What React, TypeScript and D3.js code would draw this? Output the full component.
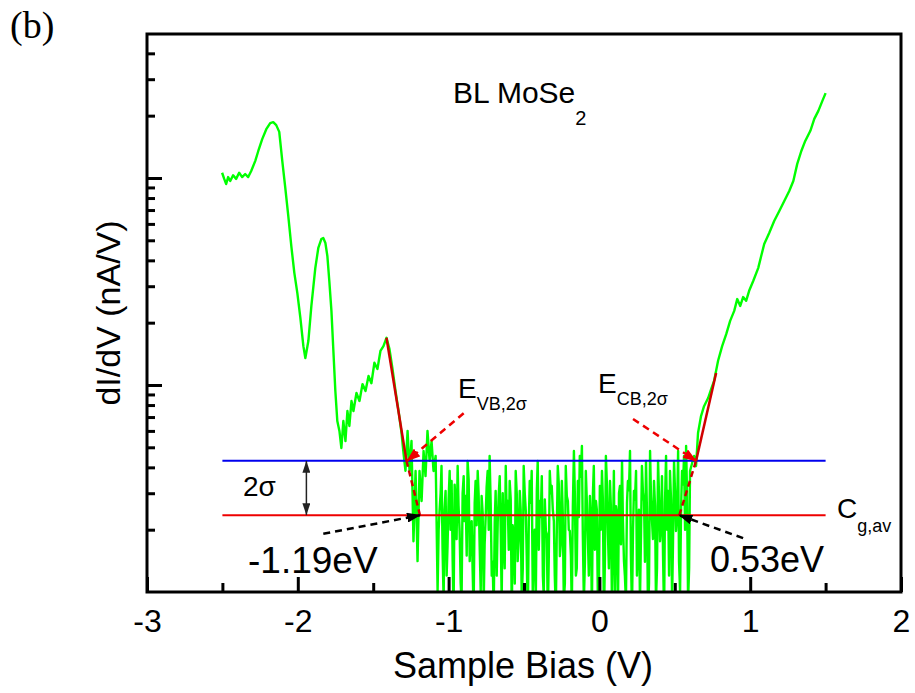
import React, { useEffect, useRef } from "react";
import * as d3 from "d3";

const FONT = "'Liberation Sans', Arial, Helvetica, sans-serif";
const SERIF = "'Liberation Serif', 'Times New Roman', serif";

// Axis ticks
const biasTicksMajor = [-3, -2, -1, 0, 1, 2];
const biasTicksMinor = [-2.5, -1.5, -0.5, 0.5, 1.5];
const didvTicksMajor = [1, 10];
const didvTicksMinor = [0.2, 0.3, 0.4, 0.5, 0.6, 0.7, 0.8, 0.9, 2, 3, 4, 5, 6, 7, 8, 9, 20, 30, 40];

// dI/dV spectrum: [sample bias (V), dI/dV (nA/V)]
const spectrum: [number, number][] = [
  [-2.502, 10.6], [-2.488, 9.9], [-2.475, 9.35], [-2.462, 10.1], [-2.448, 9.67], [-2.429, 10.3],
  [-2.409, 9.9], [-2.389, 10.6], [-2.369, 10.1], [-2.349, 10.45], [-2.329, 10.1], [-2.309, 10.8],
  [-2.282, 12.1], [-2.262, 13.5], [-2.236, 15.4], [-2.209, 17.2], [-2.183, 18.4], [-2.163, 18.6],
  [-2.143, 18.0], [-2.123, 16.7], [-2.103, 12.1], [-2.083, 8.95], [-2.063, 6.55], [-2.043, 4.69],
  [-2.023, 3.48], [-2.003, 2.78], [-1.983, 2.11], [-1.963, 1.54], [-1.950, 1.35], [-1.930, 1.63],
  [-1.910, 2.41], [-1.884, 3.67], [-1.864, 4.59], [-1.844, 5.07], [-1.831, 5.13], [-1.817, 4.85],
  [-1.804, 4.2], [-1.791, 3.18], [-1.777, 2.28], [-1.764, 1.46], [-1.751, 0.935], [-1.738, 0.67],
  [-1.724, 0.6], [-1.711, 0.496], [-1.698, 0.67], [-1.684, 0.536], [-1.671, 0.749], [-1.658, 0.634],
  [-1.644, 0.837], [-1.631, 0.749], [-1.611, 0.915], [-1.591, 0.837], [-1.571, 1.01], [-1.551, 0.935],
  [-1.531, 1.105], [-1.512, 1.02], [-1.492, 1.28], [-1.472, 1.195], [-1.452, 1.46], [-1.432, 1.54],
  [-1.412, 1.69], [-1.392, 1.49], [-1.372, 1.195], [-1.352, 0.935], [-1.332, 0.749], [-1.312, 0.586],
  [-1.299, 0.469], [-1.286, 0.385],
  [-1.272, 0.6], [-1.259, 0.384], [-1.246, 0.536], [-1.233, 0.176], [-1.219, 0.384], [-1.206, 0.141],
  [-1.193, 0.384], [-1.179, 0.275], [-1.166, 0.48], [-1.153, 0.363], [-1.14, 0.6], [-1.126, 0.43],
  [-1.113, 0.536], [-1.1, 0.384], [-1.086, 0.454],
  [-1.073, 0.101], [-1.066, 0.2], [-1.06, 0.246], [-1.053, 0.3], [-1.047, 0.406], [-1.04, 0.16],
  [-1.033, 0.09], [-1.027, 0.25], [-1.02, 0.308], [-1.013, 0.12], [-1.007, 0.167], [-1.0, 0.28],
  [-0.993, 0.384], [-0.987, 0.2], [-0.98, 0.344], [-0.973, 0.14], [-0.967, 0.081], [-0.96, 0.33],
  [-0.953, 0.275], [-0.947, 0.18], [-0.94, 0.406], [-0.934, 0.26], [-0.927, 0.197], [-0.92, 0.11],
  [-0.914, 0.09], [-0.907, 0.3], [-0.9, 0.363], [-0.894, 0.22], [-0.887, 0.291], [-0.88, 0.15],
  [-0.874, 0.43], [-0.867, 0.35], [-0.86, 0.141], [-0.854, 0.19], [-0.847, 0.22], [-0.841, 0.13],
  [-0.834, 0.081], [-0.827, 0.27], [-0.821, 0.344], [-0.814, 0.21], [-0.807, 0.384], [-0.801, 0.3],
  [-0.794, 0.167], [-0.787, 0.1], [-0.781, 0.291], [-0.774, 0.24], [-0.767, 0.09], [-0.761, 0.17],
  [-0.754, 0.233], [-0.748, 0.32], [-0.741, 0.384], [-0.734, 0.2], [-0.728, 0.454], [-0.721, 0.27],
  [-0.714, 0.12], [-0.708, 0.14], [-0.701, 0.081], [-0.694, 0.22], [-0.688, 0.308], [-0.681, 0.12],
  [-0.674, 0.22], [-0.668, 0.29], [-0.661, 0.363], [-0.654, 0.19], [-0.648, 0.09], [-0.641, 0.3],
  [-0.635, 0.176], [-0.628, 0.13], [-0.621, 0.406], [-0.615, 0.24], [-0.608, 0.275], [-0.601, 0.16],
  [-0.595, 0.344], [-0.588, 0.28], [-0.581, 0.0766], [-0.575, 0.21], [-0.568, 0.186], [-0.561, 0.11],
  [-0.555, 0.384], [-0.548, 0.3], [-0.542, 0.141], [-0.535, 0.18], [-0.528, 0.308], [-0.522, 0.25],
  [-0.515, 0.09], [-0.508, 0.13], [-0.502, 0.406], [-0.495, 0.3], [-0.488, 0.246], [-0.482, 0.15],
  [-0.475, 0.072], [-0.468, 0.22], [-0.462, 0.344], [-0.455, 0.27], [-0.449, 0.384], [-0.442, 0.1],
  [-0.435, 0.167], [-0.429, 0.2], [-0.422, 0.0856], [-0.415, 0.31], [-0.409, 0.43], [-0.402, 0.16],
  [-0.395, 0.275], [-0.389, 0.23], [-0.382, 0.363], [-0.375, 0.12], [-0.369, 0.0956], [-0.362, 0.28],
  [-0.355, 0.197], [-0.349, 0.19], [-0.342, 0.0766], [-0.336, 0.14], [-0.329, 0.384], [-0.322, 0.3],
  [-0.316, 0.325], [-0.309, 0.25], [-0.302, 0.22], [-0.296, 0.12], [-0.289, 0.081], [-0.282, 0.21],
  [-0.276, 0.406], [-0.269, 0.33], [-0.262, 0.149], [-0.256, 0.17], [-0.249, 0.344], [-0.243, 0.24],
  [-0.236, 0.09], [-0.229, 0.11], [-0.223, 0.406], [-0.216, 0.29], [-0.209, 0.275], [-0.203, 0.2],
  [-0.196, 0.197], [-0.189, 0.15], [-0.183, 0.081], [-0.176, 0.26], [-0.169, 0.48], [-0.163, 0.3],
  [-0.156, 0.12], [-0.15, 0.13], [-0.143, 0.344], [-0.136, 0.23], [-0.13, 0.454], [-0.123, 0.36],
  [-0.116, 0.507], [-0.11, 0.19], [-0.103, 0.09], [-0.096, 0.14], [-0.09, 0.384], [-0.083, 0.27],
  [-0.076, 0.176], [-0.07, 0.12], [-0.063, 0.291], [-0.056, 0.22], [-0.05, 0.0766], [-0.043, 0.3],
  [-0.037, 0.406], [-0.03, 0.16], [-0.023, 0.275], [-0.017, 0.25], [-0.01, 0.09], [-0.003, 0.11],
  [0.003, 0.325], [0.01, 0.2], [0.017, 0.384], [0.023, 0.28], [0.03, 0.072], [0.037, 0.15],
  [0.043, 0.454], [0.05, 0.33], [0.056, 0.197], [0.063, 0.13], [0.07, 0.344], [0.076, 0.26],
  [0.083, 0.09], [0.09, 0.18], [0.096, 0.384], [0.103, 0.1], [0.11, 0.26], [0.116, 0.24],
  [0.123, 0.081], [0.13, 0.3], [0.136, 0.325], [0.143, 0.17], [0.15, 0.43], [0.156, 0.22],
  [0.163, 0.141], [0.169, 0.12], [0.176, 0.09], [0.183, 0.27], [0.189, 0.344], [0.196, 0.31],
  [0.203, 0.48], [0.209, 0.15], [0.216, 0.081], [0.223, 0.2], [0.229, 0.308], [0.236, 0.28],
  [0.243, 0.384], [0.249, 0.12], [0.256, 0.167], [0.262, 0.25], [0.269, 0.09], [0.276, 0.19],
  [0.282, 0.406], [0.289, 0.3], [0.296, 0.275], [0.302, 0.14], [0.309, 0.43], [0.316, 0.23],
  [0.322, 0.081], [0.329, 0.11], [0.336, 0.48], [0.342, 0.29], [0.349, 0.22], [0.355, 0.18],
  [0.362, 0.344], [0.369, 0.26], [0.375, 0.09], [0.382, 0.13], [0.389, 0.43], [0.395, 0.3],
  [0.402, 0.176], [0.409, 0.21], [0.415, 0.363], [0.422, 0.15], [0.429, 0.0766], [0.435, 0.27],
  [0.442, 0.454], [0.449, 0.2], [0.455, 0.308], [0.462, 0.12], [0.468, 0.384], [0.475, 0.28],
  [0.482, 0.09], [0.488, 0.17], [0.495, 0.43], [0.502, 0.3], [0.508, 0.197], [0.515, 0.24],
  [0.522, 0.48], [0.528, 0.14], [0.535, 0.101], [0.542, 0.26], [0.548, 0.384], [0.555, 0.33],
  [0.561, 0.454], [0.568, 0.2], [0.575, 0.507], [0.581, 0.3], [0.588, 0.09], [0.595, 0.13],
  [0.601, 0.384],
  [0.615, 0.42], [0.628, 0.454], [0.641, 0.406], [0.654, 0.586], [0.674, 0.708], [0.694, 0.79],
  [0.721, 0.865], [0.741, 0.956], [0.761, 1.05], [0.787, 1.31], [0.814, 1.54], [0.841, 1.76],
  [0.867, 2.04], [0.894, 2.28], [0.914, 2.6], [0.934, 2.41], [0.953, 2.66], [0.973, 2.55],
  [0.993, 2.85], [1.02, 3.18], [1.053, 3.67], [1.073, 4.2], [1.093, 4.8], [1.126, 5.42],
  [1.159, 6.2], [1.193, 6.93], [1.226, 7.74], [1.259, 8.65], [1.286, 9.67], [1.312, 11.7],
  [1.339, 13.5], [1.365, 15.1], [1.399, 16.9], [1.425, 19.3], [1.452, 21.1], [1.478, 23.5],
  [1.5, 25.7],
];

// Gap analysis
const gapAverage = 0.235; // C_g,av
const gapThreshold = 0.43; // C_g,av + 2σ
const levelExtent = [-2.5, 1.5];
const sigmaBias = -1.943;
const vbTangent: [number, number][] = [[-1.412, 1.69], [-1.279, 0.43]];
const vbExtension: [number, number][] = [[-1.279, 0.43], [-1.19, 0.235]];
const cbTangent: [number, number][] = [[0.641, 0.43], [0.774, 1.143]];
const cbExtension: [number, number][] = [[0.53, 0.235], [0.641, 0.43]];
const vbArrow: [number, number][] = [[-0.9, 0.73], [-1.275, 0.43]];
const cbArrow: [number, number][] = [[0.223, 0.685], [0.641, 0.43]];
const vbEdgeArrow: [number, number][] = [[-1.831, 0.191], [-1.19, 0.235]];
const cbEdgeArrow: [number, number][] = [[0.953, 0.182], [0.53, 0.235]];

const X0 = 147, X1 = 901, Y0 = 592, Y1 = 34;

export default function App() {
  const gx = useRef<SVGGElement>(null);
  const gy = useRef<SVGGElement>(null);
  const x = d3.scaleLinear().domain([-3, 2]).range([X0, X1]);
  const y = d3.scaleLog().domain([0.1, 49.6]).range([Y0, Y1]);

  useEffect(() => {
    const ax = d3.select(gx.current!);
    ax.selectAll("*").remove();
    ax.append("g").call(
      d3.axisBottom(x).tickValues(biasTicksMajor).tickSizeInner(-15).tickSizeOuter(0)
        .tickPadding(17).tickFormat((d) => String(d))
    );
    ax.append("g").call(
      d3.axisBottom(x).tickValues(biasTicksMinor).tickSizeInner(-9).tickSizeOuter(0).tickFormat(() => "")
    );
    ax.selectAll(".domain").remove();
    ax.selectAll("line").attr("stroke", "#000").attr("stroke-width", 3);
    ax.selectAll("text").attr("font-size", 32).attr("font-family", FONT).attr("fill", "#000");

    const ay = d3.select(gy.current!);
    ay.selectAll("*").remove();
    ay.append("g").call(
      d3.axisLeft(y).tickValues(didvTicksMajor).tickSizeInner(-15).tickSizeOuter(0).tickFormat(() => "")
    );
    ay.append("g").call(
      d3.axisLeft(y).tickValues(didvTicksMinor).tickSizeInner(-8).tickSizeOuter(0).tickFormat(() => "")
    );
    ay.selectAll(".domain").remove();
    ay.selectAll("line").attr("stroke", "#000").attr("stroke-width", 3);
  }, []);

  const line = d3.line<[number, number]>().x((d) => x(d[0])).y((d) => y(d[1]));

  return (
    <svg width={915} height={693}
      style={{ display: "block", background: "#fff", position: "absolute", left: 0, top: 0 }}>
      <defs>
        <clipPath id="plotClip">
          <rect x={X0} y={Y1} width={X1 - X0} height={Y0 - Y1} />
        </clipPath>
        <marker id="headRed" viewBox="0 0 14 10" refX="13" refY="5" markerWidth="14" markerHeight="10"
          markerUnits="userSpaceOnUse" orient="auto">
          <path d="M0,0 L14,5 L0,10 z" fill="#ee0000" />
        </marker>
        <marker id="headBlack" viewBox="0 0 14 10" refX="13" refY="5" markerWidth="14" markerHeight="10"
          markerUnits="userSpaceOnUse" orient="auto">
          <path d="M0,0 L14,5 L0,10 z" fill="#000" />
        </marker>
        <marker id="headSmall" viewBox="0 0 12 8" refX="12" refY="4" markerWidth="12" markerHeight="8"
          markerUnits="userSpaceOnUse" orient="auto-start-reverse">
          <path d="M0,0 L12,4 L0,8 z" fill="#222" />
        </marker>
      </defs>

      <text x={10} y={38} fontFamily={SERIF} fontSize={38} fill="#000">(b)</text>

      <g clipPath="url(#plotClip)">
        <path d={line(spectrum) ?? ""} fill="none" stroke="#00ff00" strokeWidth={2.4} strokeLinejoin="round" />
      </g>

      <line x1={x(levelExtent[0])} x2={x(levelExtent[1])} y1={y(gapThreshold)} y2={y(gapThreshold)}
        stroke="#0000ee" strokeWidth={2} />
      <line x1={x(levelExtent[0])} x2={x(levelExtent[1])} y1={y(gapAverage)} y2={y(gapAverage)}
        stroke="#ee0000" strokeWidth={2} />

      <path d={line(vbTangent) ?? ""} stroke="#d00000" strokeWidth={2.5} fill="none" />
      <path d={line(vbExtension) ?? ""} stroke="#d00000" strokeWidth={2.5} strokeDasharray="6,4" fill="none" />
      <path d={line(cbTangent) ?? ""} stroke="#d00000" strokeWidth={2.5} fill="none" />
      <path d={line(cbExtension) ?? ""} stroke="#d00000" strokeWidth={2.5} strokeDasharray="6,4" fill="none" />

      <path d={line(vbArrow) ?? ""} stroke="#ee0000" strokeWidth={2.5} strokeDasharray="7,5" fill="none"
        markerEnd="url(#headRed)" />
      <path d={line(cbArrow) ?? ""} stroke="#ee0000" strokeWidth={2.5} strokeDasharray="7,5" fill="none"
        markerEnd="url(#headRed)" />
      <path d={line(vbEdgeArrow) ?? ""} stroke="#000" strokeWidth={2.5} strokeDasharray="7,5" fill="none"
        markerEnd="url(#headBlack)" />
      <path d={line(cbEdgeArrow) ?? ""} stroke="#000" strokeWidth={2.5} strokeDasharray="7,5" fill="none"
        markerEnd="url(#headBlack)" />

      <line x1={x(sigmaBias)} x2={x(sigmaBias)} y1={y(gapThreshold)} y2={y(gapAverage)}
        stroke="#222" strokeWidth={1.5} markerStart="url(#headSmall)" markerEnd="url(#headSmall)" />

      <g fontFamily={FONT} fill="#000">
        <text x={453} y={103} fontSize={30}>BL MoSe<tspan dy={22} fontSize={20}>2</tspan></text>
        <text x={458} y={398} fontSize={28}>E<tspan dy={12} fontSize={18}>VB,2σ</tspan></text>
        <text x={598} y={393} fontSize={28}>E<tspan dy={12} fontSize={18}>CB,2σ</tspan></text>
        <text x={243} y={496} fontSize={28}>2σ</text>
        <text x={837} y={518} fontSize={28}>C<tspan dy={14} fontSize={18}>g,av</tspan></text>
        <text x={248} y={573} fontSize={37}>-1.19eV</text>
        <text x={710} y={572} fontSize={36}>0.53eV</text>
        <text x={523} y={678} fontSize={36} textAnchor="middle">Sample Bias (V)</text>
        <text transform="translate(120,313) rotate(-90)" fontSize={34} textAnchor="middle">dI/dV (nA/V)</text>
      </g>

      <g ref={gx} transform={`translate(0,${Y0})`} />
      <g ref={gy} transform={`translate(${X0},0)`} />
      <rect x={X0} y={Y1} width={X1 - X0} height={Y0 - Y1} fill="none" stroke="#000" strokeWidth={3} />
    </svg>
  );
}
